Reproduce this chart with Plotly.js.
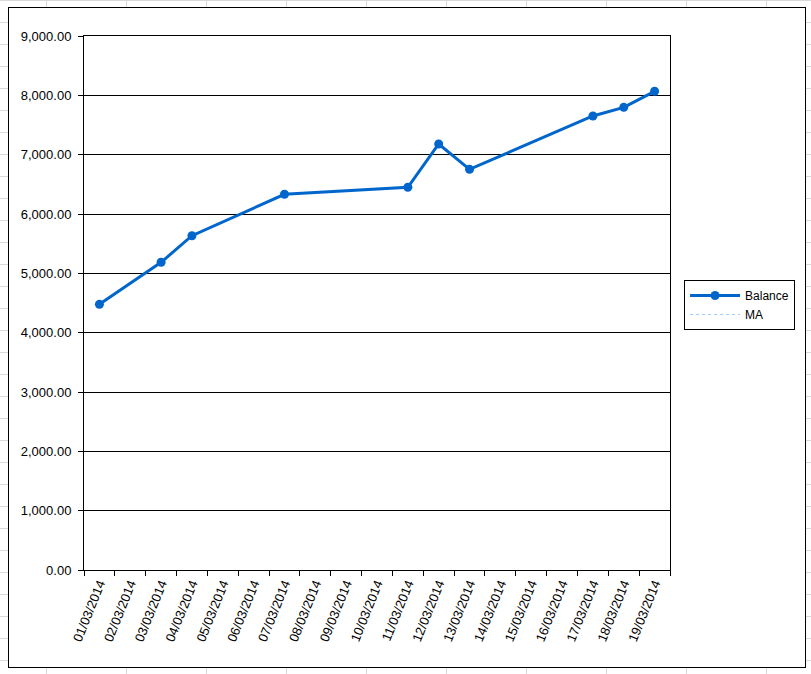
<!DOCTYPE html>
<html>
<head>
<meta charset="utf-8">
<script src="https://cdn.plot.ly/plotly-3.0.1.min.js"></script>
<style>
html, body { margin:0; padding:0; width:811px; height:674px; overflow:hidden; }
body {
  background-color:#ffffff;
  background-image:
    linear-gradient(to right, #d9d9d9 1px, transparent 1px),
    linear-gradient(to bottom, #d9d9d9 1px, transparent 1px);
  background-size: 80px 22px, 80px 22px;
  background-position: 46px 0, 0 0;
}
#box { position:absolute; left:8px; top:7px; width:796px; height:659px; background:#fff; border:1px solid #000; }
#chart { position:absolute; left:0; top:0; width:811px; height:674px; }
</style>
</head>
<body>
<div id="box"></div>
<div id="chart"></div>
<script>
const categories = ["01/03/2014","02/03/2014","03/03/2014","04/03/2014","05/03/2014","06/03/2014","07/03/2014","08/03/2014","09/03/2014","10/03/2014","11/03/2014","12/03/2014","13/03/2014","14/03/2014","15/03/2014","16/03/2014","17/03/2014","18/03/2014","19/03/2014"];
const balanceDates = ["01/03/2014","03/03/2014","04/03/2014","07/03/2014","11/03/2014","12/03/2014","13/03/2014","17/03/2014","18/03/2014","19/03/2014"];
const balanceValues = [4478, 5186, 5634, 6332, 6450, 7180, 6753, 7652, 7798, 8068];
const maDates = ["01/03/2014"];
const maValues = [null];

const font = {family: "Liberation Sans, Arial, sans-serif", size: 13, color: "#000"};

const traces = [
  {
    x: balanceDates, y: balanceValues, name: "Balance", type: "scatter", mode: "lines+markers",
    line: {color: "#0066CC", width: 3},
    marker: {color: "#0066CC", size: 9}
  },
  {
    x: maDates, y: maValues, name: "MA", type: "scatter", mode: "lines",
    line: {color: "#99CCFF", width: 1, dash: "dot"}
  }
];

const layout = {
  width: 811, height: 674,
  margin: {l: 84, r: 141, t: 36, b: 104, pad: 0},
  paper_bgcolor: "rgba(0,0,0,0)",
  plot_bgcolor: "#ffffff",
  font: font,
  showlegend: true,
  legend: {
    x: 1.024, y: 0.543, xanchor: "left", yanchor: "top",
    bordercolor: "#000", borderwidth: 1, bgcolor: "#fff",
    font: {family: "Liberation Sans, Arial, sans-serif", size: 12, color: "#000"},
    itemwidth: 50, tracegroupgap: 0
  },
  xaxis: {
    type: "category", categoryorder: "array", categoryarray: categories,
    tickvals: categories, ticktext: categories,
    range: [-0.5, 18.5], tickson: "boundaries",
    ticks: "outside", ticklen: 5, tickcolor: "#000", tickwidth: 1,
    tickangle: -68, tickfont: font,
    showgrid: false, showline: true, mirror: true, linecolor: "#000", linewidth: 1,
    zeroline: false, fixedrange: true
  },
  yaxis: {
    range: [0, 9000], dtick: 1000, tick0: 0, tickformat: ",.2f",
    ticks: "outside", ticklen: 5, tickcolor: "#000", tickwidth: 1,
    ticklabelstandoff: 4,
    tickfont: font,
    showgrid: true, gridcolor: "#000", gridwidth: 1,
    showline: true, mirror: true, linecolor: "#000", linewidth: 1,
    zeroline: false, fixedrange: true
  }
};

Plotly.newPlot("chart", traces, layout, {displayModeBar: false, staticPlot: true});
</script>
</body>
</html>
